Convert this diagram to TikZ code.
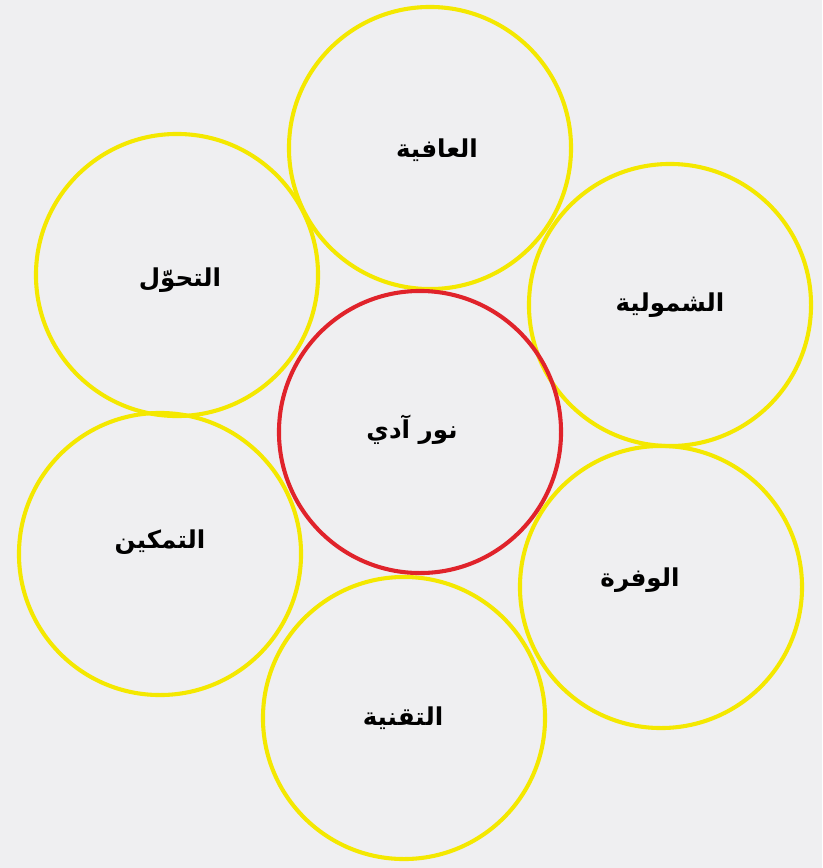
\documentclass[tikz,border=0pt]{standalone}
\usepackage{fontspec}
\newfontfamily\arabicfont[Script=Arabic]{DejaVu Sans}
\TeXXeTstate=1
\definecolor{bg}{HTML}{EFEFF1}
\definecolor{ylw}{HTML}{F4E800}
\definecolor{rd}{HTML}{E0232B}
\tikzset{
  petal/.style={circle, draw=ylw, line width=2.9pt, minimum size=7.05cm, inner sep=0pt},
  hub/.style={circle, draw=rd, line width=2.9pt, minimum size=7.05cm, inner sep=0pt},
  lbl/.style={font=\arabicfont\bfseries\fontsize{17.5}{21}\selectfont, text=black}
}
\begin{document}
\begin{tikzpicture}[x=0.025cm, y=-0.025cm]
\fill[bg] (0,0) rectangle (822,868);
\useasboundingbox (0,0) rectangle (822,868);
\node[petal] (top) at (430,148) {};
\node[petal] (ul) at (177,275) {};
\node[petal] (ur) at (670,305) {};
\node[petal] (ll) at (160,554) {};
\node[petal] (lr) at (661,587) {};
\node[petal] (bot) at (404,718) {};
\node[hub] (hub) at (420,432) {};
\node[lbl] (t1) at (437,150) {\beginR العافية\endR};
\node[lbl] (t2) at (180,280) {\beginR التحوّل\endR};
\node[lbl] (t3) at (670,305) {\beginR الشمولية\endR};
\node[lbl] (t4) at (412,430) {\beginR نور آدي\endR};
\node[lbl] (t5) at (160,542) {\beginR التمكين\endR};
\node[lbl] (t6) at (640,580) {\beginR الوفرة\endR};
\node[lbl] (t7) at (403,718) {\beginR التقنية\endR};
\end{tikzpicture}
\end{document}
